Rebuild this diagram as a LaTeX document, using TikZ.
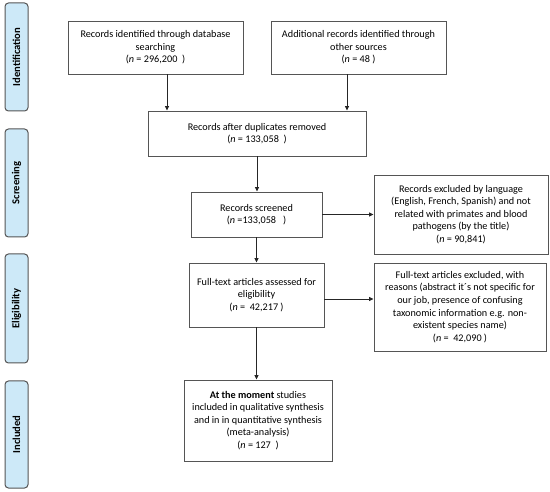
\documentclass[tikz,border=0pt]{standalone}
\usepackage{fontspec}
\setmainfont{Carlito}
\usetikzlibrary{arrows.meta}
\definecolor{sidefill}{HTML}{CDE9F8}
\definecolor{lineg}{HTML}{555555}
\tikzset{
  flowbox/.style={draw=lineg, line width=0.9pt, fill=white, align=center, inner sep=2pt,
    font=\fontsize{10.2}{12.6}\selectfont, text=black},
  sidebox/.style={draw=lineg, line width=1pt, fill=sidefill, rounded corners=3.5pt,
    minimum width=23pt, inner sep=0pt},
  sidetext/.style={rotate=90, font=\bfseries\fontsize{10.6}{12}\selectfont},
  arr/.style={draw=black!85, line width=0.8pt, -{Triangle[length=4.5pt,width=4pt]}}
}
\begin{document}
\begin{tikzpicture}[x=1pt,y=-1pt]
\useasboundingbox (0,0) rectangle (550,492);
% side labels
\node[sidebox, minimum height=108pt] (sid) at (16.5,57) {};
\node[sidetext] (sidt) at (sid.center) {Identification};
\node[sidebox, minimum height=108pt] (sscr) at (16.5,183) {};
\node[sidetext] (sscrt) at (sscr.center) {Screening};
\node[sidebox, minimum height=109pt] (selig) at (16.5,308.5) {};
\node[sidetext] (seligt) at (selig.center) {Eligibility};
\node[sidebox, minimum height=107pt] (sinc) at (16.5,434.5) {};
\node[sidetext] (sinct) at (sinc.center) {Included};
% flow boxes
\node[flowbox, minimum width=175pt, minimum height=53pt] (db) at (155.5,47.5)
  {Records identified through database\\searching\\(\textit{n} = 296,200~~)};
\node[flowbox, minimum width=175pt, minimum height=53pt] (oth) at (358.5,47.5)
  {Additional records identified through\\other sources\\(\textit{n} = 48 )};
\node[flowbox, minimum width=218pt, minimum height=45pt] (dup) at (257,133.5)
  {Records after duplicates removed\\(\textit{n} = 133,058~~)};
\node[flowbox, minimum width=131pt, minimum height=45pt] (scr) at (256.5,214.5)
  {Records screened\\(\textit{n} =133,058~~~)};
\node[flowbox, minimum width=174pt, minimum height=79pt] (ex1) at (461,214.5)
  {Records excluded by language\\(English, French, Spanish) and not\\related with primates and blood\\pathogens (by the title)\\(\textit{n} = 90,841)};
\node[flowbox, minimum width=135pt, minimum height=64pt] (full) at (256.5,295)
  {Full-text articles assessed for\\eligibility\\(\textit{n} =~ 42,217 )};
\node[flowbox, minimum width=172pt, minimum height=88pt] (ex2) at (460,307)
  {Full-text articles excluded, with\\reasons (abstract it´s not specific for\\our job, presence of confusing\\taxonomic information e.g. non-\\existent species name)\\(\textit{n} =~ 42,090 )};
\node[flowbox, minimum width=148pt, minimum height=81pt] (inc) at (258,420.5)
  {\textbf{At the moment} studies\\included in qualitative synthesis\\and in in quantitative synthesis\\(meta-analysis)\\(\textit{n} = 127~ )};
% connectors
\draw[arr] ([xshift=11.5pt]db.south) -- ([xshift=11.5pt]db.south |- dup.north);
\draw[arr] ([xshift=-11.5pt]oth.south) -- ([xshift=-11.5pt]oth.south |- dup.north);
\draw[arr] (dup.south) -- (dup.south |- scr.north);
\draw[arr] (scr.east) -- (scr.east -| ex1.west);
\draw[arr] (scr.south) -- (scr.south |- full.north);
\draw[arr] ([yshift=-4pt]full.east) -- ([yshift=-4pt]full.east -| ex2.west);
\draw[arr] (full.south) -- (full.south |- inc.north);
\end{tikzpicture}
\end{document}
